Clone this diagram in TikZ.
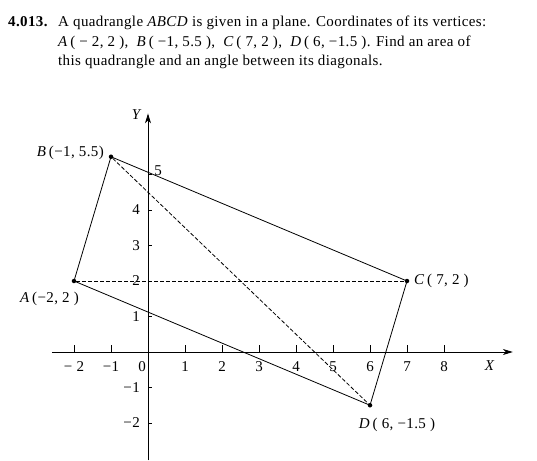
\documentclass[tikz,border=0pt]{standalone}
\usepackage{fontspec}
\setmainfont{Liberation Serif}[LetterSpace=2.5]
\usetikzlibrary{arrows.meta, positioning}
\tikzset{
  axis/.style={-{Stealth[length=10pt,width=6pt,inset=3pt]},line width=0.8pt},
  side/.style={line width=0.8pt},
  diag/.style={line width=0.8pt,dash pattern=on 4pt off 2pt},
  vertex/.style={circle,fill,inner sep=0pt,minimum size=4.5pt},
  tickline/.style={line width=0.7pt},
  lbl/.style={font=\fontsize{15}{18}\selectfont,inner sep=1pt},
  textline/.style={font=\fontsize{15}{18}\selectfont,anchor=base west,inner sep=0pt}
}

\begin{document}
\begin{tikzpicture}[x=37pt,y=35.5pt]
\useasboundingbox (-148pt,-108pt) rectangle (389pt,352pt);

% problem text
\node[textline] (num) at (-140pt,325pt) {\textbf{4.013.}};
\node[textline] (t1) at (-90pt,325pt) {A quadrangle \textit{ABCD} is given in a plane. Coordinates of its vertices:};
\node[textline] (t2) at (-90pt,305.5pt) {\textit{A}\,( − 2, 2 ),\ \ \textit{B}\,( −1, 5.5 ),\ \ \textit{C}\,( 7, 2 ),\ \ \textit{D}\,( 6, −1.5 ). Find an area of};
\node[textline] (t3) at (-90pt,286pt) {this quadrangle and an angle between its diagonals.};

% axes
\coordinate (xl) at (-2.6,0);
\coordinate (xr) at (9.86,0);
\coordinate (yb) at (0,-3.05);
\coordinate (yt) at (0,6.72);
\draw[axis] (xl) -- (xr);
\draw[axis] (yb) -- (yt);
\node[lbl] (ylab) at (-0.3,6.68) {\textit{Y}};
\node[lbl] (xlab) at (9.24,-0.38) {\textit{X}};

% ticks
\foreach \i/\t in {-2/− 2,-1/−1,1/1,2/2,3/3,4/4,5/5,6/6,7/7,8/8} {
  \draw[tickline] (\i,0) -- ++(0,7pt);
  \node[lbl] (xt\i) at ([yshift=-15pt]\i,0) {\t};
}
\node[lbl] (orig) at ([xshift=-6pt,yshift=-15pt]0,0) {0};
\foreach \j/\t in {-2/−2,-1/−1,1/1,2/2,3/3,4/4} {
  \draw[tickline] (0,\j) -- ++(4pt,0);
  \node[lbl,anchor=east] (yt\j) at ([xshift=-7pt]0,\j) {\t};
}
\draw[tickline] (0,5) -- ++(4pt,0);
\node[lbl] (yt5) at ([xshift=10pt,yshift=4pt]0,5) {5};

% vertices
\node[vertex] (A) at (-2,2) {};
\node[vertex] (B) at (-1,5.5) {};
\node[vertex] (C) at (7,2) {};
\node[vertex] (D) at (6,-1.5) {};

% sides and diagonals
\draw[side] (A.center) -- (B.center) -- (C.center) -- (D.center) -- cycle;
\draw[diag] (A) -- (C);
\draw[diag] (B) -- (D);

% labels
\node[lbl,anchor=east] (la) at ([xshift=6pt,yshift=-18pt]A) {\textit{A}\,(−2, 2 )};
\node[lbl,anchor=east] (lb) at ([xshift=-6pt,yshift=4pt]B) {\textit{B}\,(−1, 5.5)};
\node[lbl,anchor=west] (lc) at ([xshift=6pt]C) {\textit{C}\,( 7, 2 )};
\node[lbl] (ld) at ([xshift=27pt,yshift=-20pt]D) {\textit{D}\,( 6, −1.5 )};
\end{tikzpicture}
\end{document}
